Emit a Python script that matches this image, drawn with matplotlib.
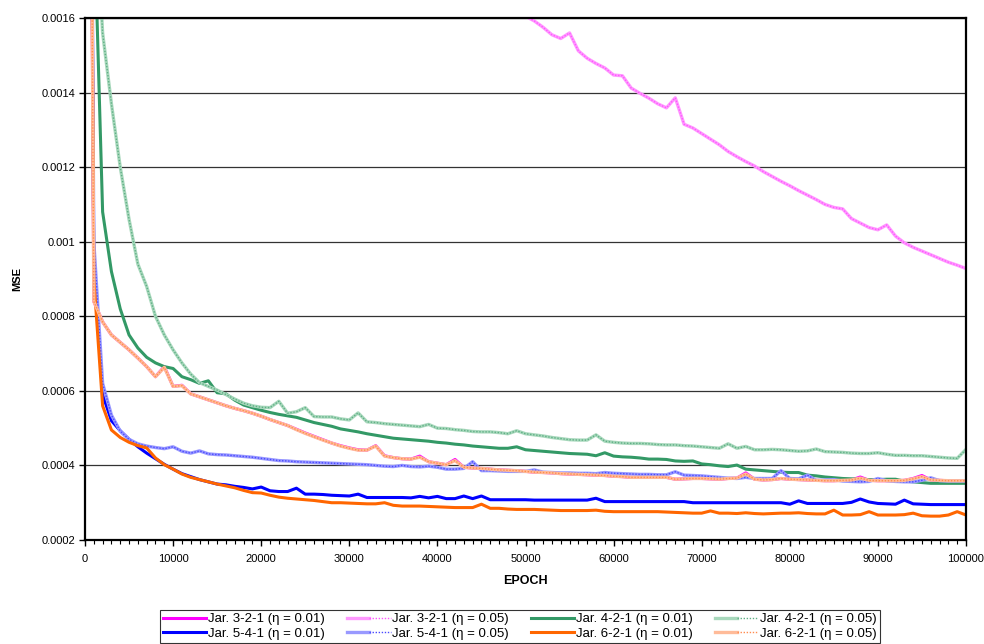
import matplotlib
matplotlib.use("Agg")
import matplotlib.pyplot as plt
from matplotlib.ticker import MultipleLocator, FuncFormatter
from matplotlib.legend_handler import HandlerTuple
import numpy as np

plt.rcParams['font.family'] = ['Liberation Sans', 'DejaVu Sans']

epochs = list(range(0, 100001, 1000))

# values in units of 1e-4 (MSE)
j321_001 = [50, 8.4, 7.85, 7.5, 7.3, 7.1, 6.88, 6.65, 6.38, 6.65, 6.12,
            6.15, 5.92, 5.84, 5.76, 5.68, 5.6, 5.53, 5.47, 5.4, 5.32,
            5.23, 5.15, 5.07, 4.97, 4.87, 4.78, 4.69, 4.6, 4.53, 4.47,
            4.42, 4.41, 4.53, 4.26, 4.21, 4.18, 4.17, 4.25, 4.1, 4.06,
            4.02, 4.16, 3.95, 3.93, 3.92, 3.9, 3.88, 3.87, 3.86, 3.84,
            3.82, 3.81, 3.8, 3.78, 3.77, 3.76, 3.75, 3.74, 3.73, 3.71,
            3.7, 3.68, 3.68, 3.68, 3.68, 3.68, 3.63, 3.64, 3.65, 3.65,
            3.64, 3.63, 3.65, 3.66, 3.80, 3.63, 3.61, 3.62, 3.65, 3.63,
            3.62, 3.61, 3.6, 3.59, 3.59, 3.6, 3.61, 3.69, 3.6, 3.59,
            3.59, 3.59, 3.6, 3.65, 3.73, 3.61, 3.6, 3.59, 3.59, 3.59]

j321_005_epochs = list(range(49000, 100001, 1000))
j321_005 = [16.25, 16.05, 15.92, 15.75, 15.55, 15.45, 15.6, 15.12, 14.92, 14.78,
            14.66, 14.47, 14.45, 14.12, 13.98, 13.85, 13.7, 13.59, 13.86, 13.15,
            13.05, 12.9, 12.75, 12.6, 12.42, 12.28, 12.15, 12.03, 11.88, 11.75,
            11.62, 11.5, 11.37, 11.25, 11.13, 11.0, 10.92, 10.88, 10.62, 10.5,
            10.38, 10.32, 10.45, 10.15, 9.97, 9.85, 9.75, 9.65, 9.55, 9.45,
            9.37, 9.28]

j421_001 = [50, 19.0, 10.8, 9.2, 8.2, 7.5, 7.15, 6.9, 6.75, 6.65, 6.6,
            6.38, 6.3, 6.2, 6.27, 5.95, 5.92, 5.75, 5.62, 5.55, 5.48,
            5.42, 5.37, 5.33, 5.29, 5.22, 5.15, 5.1, 5.05, 4.98, 4.94,
            4.9, 4.85, 4.81, 4.77, 4.73, 4.71, 4.69, 4.67, 4.65, 4.62,
            4.6, 4.57, 4.55, 4.52, 4.5, 4.48, 4.46, 4.46, 4.5, 4.42,
            4.4, 4.38, 4.36, 4.34, 4.32, 4.31, 4.3, 4.26, 4.34, 4.25,
            4.23, 4.22, 4.2, 4.17, 4.17, 4.16, 4.12, 4.11, 4.12, 4.04,
            4.02, 3.99, 3.97, 4.01, 3.9, 3.88, 3.86, 3.84, 3.82, 3.81,
            3.81, 3.74, 3.72, 3.69, 3.67, 3.65, 3.64, 3.63, 3.62, 3.62,
            3.63, 3.63, 3.58, 3.56, 3.54, 3.52, 3.52, 3.52, 3.52, 3.52]

j421_005 = [60, 20.0, 15.6, 13.7, 12.0, 10.6, 9.4, 8.8, 8.0, 7.5, 7.1,
            6.75, 6.45, 6.22, 6.12, 6.02, 5.9, 5.78, 5.67, 5.6, 5.56,
            5.55, 5.72, 5.4, 5.44, 5.55, 5.31, 5.3, 5.3, 5.25, 5.22,
            5.41, 5.17, 5.15, 5.12, 5.1, 5.08, 5.06, 5.04, 5.1, 5.0,
            4.99, 4.96, 4.94, 4.91, 4.9, 4.9, 4.88, 4.85, 4.93, 4.85,
            4.82, 4.79, 4.75, 4.72, 4.69, 4.68, 4.68, 4.82, 4.65, 4.62,
            4.6, 4.59, 4.59, 4.58, 4.56, 4.55, 4.55, 4.53, 4.52, 4.5,
            4.48, 4.46, 4.58, 4.46, 4.51, 4.42, 4.42, 4.43, 4.42, 4.4,
            4.38, 4.39, 4.44, 4.37, 4.36, 4.35, 4.33, 4.32, 4.32, 4.34,
            4.3, 4.27, 4.27, 4.26, 4.26, 4.24, 4.22, 4.2, 4.19, 4.43]

j541_001 = [50, 9.5, 5.9, 5.2, 4.93, 4.7, 4.5, 4.33, 4.18, 4.03, 3.9,
            3.78, 3.7, 3.62, 3.56, 3.5, 3.48, 3.44, 3.41, 3.37, 3.42,
            3.32, 3.3, 3.3, 3.39, 3.23, 3.23, 3.22, 3.2, 3.19, 3.18,
            3.23, 3.14, 3.14, 3.14, 3.14, 3.14, 3.13, 3.17, 3.13, 3.17,
            3.11, 3.11, 3.18, 3.11, 3.18, 3.08, 3.08, 3.08, 3.08, 3.08,
            3.07, 3.07, 3.07, 3.07, 3.07, 3.07, 3.07, 3.12, 3.03, 3.03,
            3.03, 3.03, 3.03, 3.03, 3.03, 3.03, 3.03, 3.03, 3.0, 3.0,
            3.0, 3.0, 3.0, 3.0, 3.0, 3.0, 3.0, 3.0, 3.0, 2.96,
            3.05, 2.98, 2.98, 2.98, 2.98, 2.98, 3.01, 3.1, 3.02, 2.98,
            2.97, 2.96, 3.07, 2.97, 2.96, 2.95, 2.95, 2.95, 2.95, 2.95]

j541_005 = [50, 10.0, 6.2, 5.35, 4.92, 4.7, 4.58, 4.52, 4.48, 4.45, 4.5,
            4.38, 4.33, 4.39, 4.31, 4.29, 4.28, 4.26, 4.24, 4.22, 4.19,
            4.16, 4.13, 4.12, 4.1, 4.09, 4.08, 4.07, 4.06, 4.05, 4.04,
            4.03, 4.02, 4.0, 3.98, 3.97, 4.0, 3.97, 3.96, 3.98, 3.95,
            3.9, 3.9, 3.92, 4.1, 3.86, 3.86, 3.85, 3.84, 3.84, 3.84,
            3.88, 3.82, 3.81, 3.8, 3.8, 3.79, 3.79, 3.78, 3.81, 3.79,
            3.78, 3.77, 3.76, 3.76, 3.75, 3.75, 3.83, 3.74, 3.73, 3.72,
            3.7, 3.68, 3.66, 3.65, 3.68, 3.65, 3.65, 3.65, 3.86, 3.65,
            3.64, 3.74, 3.6, 3.61, 3.62, 3.58, 3.57, 3.56, 3.57, 3.65,
            3.59, 3.57, 3.56, 3.56, 3.6, 3.67, 3.59, 3.58, 3.58, 3.58]

j621_001 = [50, 9.0, 5.6, 4.95, 4.75, 4.62, 4.53, 4.47, 4.2, 4.02, 3.9,
            3.77, 3.68, 3.62, 3.56, 3.5, 3.45, 3.4, 3.33, 3.27, 3.26,
            3.2, 3.15, 3.12, 3.1, 3.08, 3.06, 3.03, 3.0, 3.0, 2.99,
            2.98, 2.97, 2.97, 3.0, 2.93, 2.91, 2.91, 2.91, 2.9, 2.89,
            2.88, 2.87, 2.87, 2.87, 2.96, 2.85, 2.85, 2.83, 2.82, 2.82,
            2.82, 2.81, 2.8, 2.79, 2.79, 2.79, 2.79, 2.8, 2.77, 2.76,
            2.76, 2.76, 2.76, 2.76, 2.76, 2.75, 2.74, 2.73, 2.72, 2.72,
            2.78, 2.72, 2.72, 2.71, 2.73, 2.71, 2.7, 2.71, 2.72, 2.72,
            2.73, 2.71, 2.7, 2.7, 2.8, 2.67, 2.67, 2.68, 2.76, 2.67,
            2.67, 2.67, 2.68, 2.72, 2.65, 2.64, 2.64, 2.67, 2.76, 2.67]

j621_005 = [50, 8.4, 7.85, 7.5, 7.3, 7.1, 6.88, 6.65, 6.38, 6.63, 6.12,
            6.14, 5.92, 5.84, 5.76, 5.68, 5.6, 5.53, 5.47, 5.4, 5.32,
            5.23, 5.15, 5.07, 4.96, 4.86, 4.77, 4.68, 4.6, 4.52, 4.46,
            4.41, 4.41, 4.52, 4.25, 4.21, 4.18, 4.17, 4.22, 4.1, 4.06,
            4.02, 4.13, 3.95, 3.93, 3.92, 3.9, 3.88, 3.87, 3.86, 3.84,
            3.82, 3.81, 3.8, 3.78, 3.77, 3.76, 3.75, 3.74, 3.73, 3.71,
            3.7, 3.68, 3.68, 3.68, 3.68, 3.68, 3.63, 3.64, 3.65, 3.65,
            3.64, 3.63, 3.65, 3.66, 3.77, 3.63, 3.61, 3.62, 3.65, 3.63,
            3.62, 3.61, 3.6, 3.59, 3.59, 3.6, 3.61, 3.66, 3.6, 3.59,
            3.59, 3.59, 3.6, 3.64, 3.70, 3.61, 3.6, 3.59, 3.59, 3.59]

labels = ["Jar. 3-2-1 (η = 0.01)", "Jar. 3-2-1 (η = 0.05)",
          "Jar. 4-2-1 (η = 0.01)", "Jar. 4-2-1 (η = 0.05)",
          "Jar. 5-4-1 (η = 0.01)", "Jar. 5-4-1 (η = 0.05)",
          "Jar. 6-2-1 (η = 0.01)", "Jar. 6-2-1 (η = 0.05)"]

series = [
    (epochs, j321_001, 'solid', '#FF00FF', None),
    (j321_005_epochs, j321_005, 'hatch', '#FF99FF', '#FF55FF'),
    (epochs, j421_001, 'solid', '#339966', None),
    (epochs, j421_005, 'hatch', '#A8D8BC', '#5FAF85'),
    (epochs, j541_001, 'solid', '#0000FF', None),
    (epochs, j541_005, 'hatch', '#9999FF', '#4A4AFF'),
    (epochs, j621_001, 'solid', '#FF6600', None),
    (epochs, j621_005, 'hatch', '#FFBB99', '#FF8C50'),
]

fig = plt.figure(figsize=(9.84, 6.44), dpi=100)
ax = fig.add_axes([85/984, 1-540/644, (966-85)/984, (540-18)/644])

handles = []
for (xs, ys, kind, c, c2) in series:
    yv = np.array(ys) * 1e-4
    if kind == 'solid':
        l, = ax.plot(xs, yv, color=c, lw=2.2, solid_joinstyle='round')
        handles.append(l)
    else:
        l1, = ax.plot(xs, yv, color=c, lw=2.4, solid_joinstyle='round')
        l2, = ax.plot(xs, yv, color=c2, lw=1.0, linestyle=(0, (1, 1.2)))
        handles.append((l1, l2))

ax.set_xlim(0, 100000)
ax.set_ylim(0.0002, 0.0016)
ax.yaxis.set_major_locator(MultipleLocator(0.0002))
ax.yaxis.set_major_formatter(FuncFormatter(lambda v, p: f"{round(v, 5):g}"))
ax.xaxis.set_major_locator(MultipleLocator(10000))
ax.xaxis.set_minor_locator(MultipleLocator(1000))
ax.xaxis.set_major_formatter(FuncFormatter(lambda v, p: f"{int(round(v))}"))
ax.grid(axis='y', color='#333333', lw=0.9)
ax.set_axisbelow(True)
for s in ax.spines.values():
    s.set_color('black')
    s.set_linewidth(1.6)
ax.tick_params(axis='both', which='major', direction='out', length=4, width=1,
               labelsize=8, pad=3)
ax.tick_params(axis='x', which='major', pad=6)
ax.tick_params(axis='x', which='minor', direction='out', length=3, width=0.8)
ax.set_xlabel('EPOCH', fontsize=9, fontweight='bold', labelpad=8)
ax.set_ylabel('MSE', fontsize=8, fontweight='bold', labelpad=14)

# row-major legend order (matplotlib fills columns first)
order = [0, 4, 1, 5, 2, 6, 3, 7]
leg = fig.legend([handles[i] for i in order], [labels[i] for i in order],
                 loc='lower center', bbox_to_anchor=(520/984, 1/644),
                 ncol=4, fontsize=9.5, frameon=True, fancybox=False,
                 edgecolor='black', handlelength=3.3, handletextpad=0.15,
                 columnspacing=1.65, borderpad=0.25, labelspacing=0.15,
                 borderaxespad=0.0,
                 handler_map={tuple: HandlerTuple(ndivide=None, pad=0)})
leg.get_frame().set_linewidth(0.8)

fig.savefig('out.png', dpi=100)
